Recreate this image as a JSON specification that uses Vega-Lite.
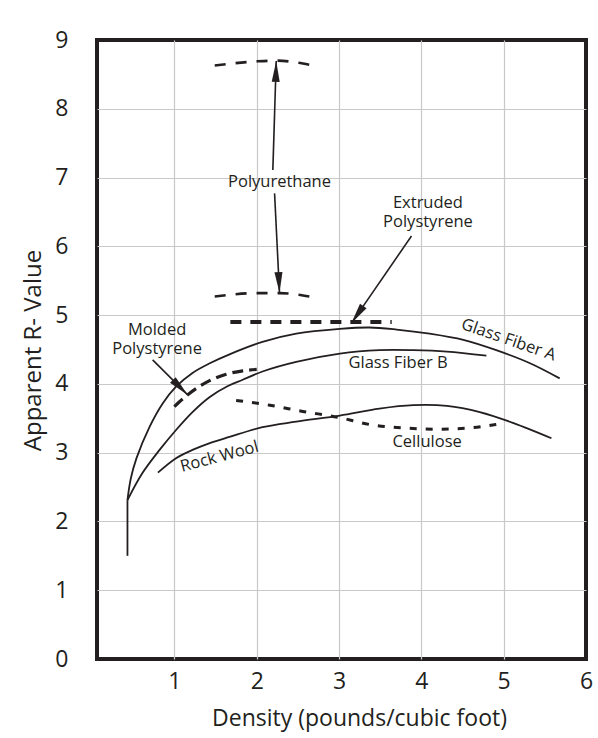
{
  "$schema": "https://vega.github.io/schema/vega-lite/v6.json",
  "width": 489,
  "height": 619,
  "autosize": {"type": "none"},
  "padding": {"left": 97, "top": 40, "right": 12, "bottom": 79},
  "background": "white",
  "config": {
    "view": {"stroke": "#231f20", "strokeWidth": 4},
    "font": "Open Sans",
    "axis": {"labelFont": "Open Sans", "titleFont": "Open Sans", "labelColor": "#231f20", "titleColor": "#231f20", "titleFontWeight": "normal"}
  },
  "datasets": {
    "curves": [
      {"series": "Glass Fiber A", "x": 0.43, "y": 2.31},
      {"series": "Glass Fiber A", "x": 0.47, "y": 2.62},
      {"series": "Glass Fiber A", "x": 0.54, "y": 2.92},
      {"series": "Glass Fiber A", "x": 0.70, "y": 3.38},
      {"series": "Glass Fiber A", "x": 0.86, "y": 3.72},
      {"series": "Glass Fiber A", "x": 1.02, "y": 3.96},
      {"series": "Glass Fiber A", "x": 1.22, "y": 4.16},
      {"series": "Glass Fiber A", "x": 1.43, "y": 4.30},
      {"series": "Glass Fiber A", "x": 1.67, "y": 4.43},
      {"series": "Glass Fiber A", "x": 2.07, "y": 4.61},
      {"series": "Glass Fiber A", "x": 2.48, "y": 4.73},
      {"series": "Glass Fiber A", "x": 3.01, "y": 4.80},
      {"series": "Glass Fiber A", "x": 3.37, "y": 4.82},
      {"series": "Glass Fiber A", "x": 3.70, "y": 4.79},
      {"series": "Glass Fiber A", "x": 4.10, "y": 4.73},
      {"series": "Glass Fiber A", "x": 4.51, "y": 4.64},
      {"series": "Glass Fiber A", "x": 4.91, "y": 4.49},
      {"series": "Glass Fiber A", "x": 5.32, "y": 4.30},
      {"series": "Glass Fiber A", "x": 5.68, "y": 4.08},
      {"series": "Glass Fiber B", "x": 0.43, "y": 2.31},
      {"series": "Glass Fiber B", "x": 0.61, "y": 2.70},
      {"series": "Glass Fiber B", "x": 0.82, "y": 3.04},
      {"series": "Glass Fiber B", "x": 1.02, "y": 3.33},
      {"series": "Glass Fiber B", "x": 1.22, "y": 3.59},
      {"series": "Glass Fiber B", "x": 1.43, "y": 3.81},
      {"series": "Glass Fiber B", "x": 1.65, "y": 3.97},
      {"series": "Glass Fiber B", "x": 1.83, "y": 4.06},
      {"series": "Glass Fiber B", "x": 2.07, "y": 4.18},
      {"series": "Glass Fiber B", "x": 2.48, "y": 4.32},
      {"series": "Glass Fiber B", "x": 3.01, "y": 4.44},
      {"series": "Glass Fiber B", "x": 3.49, "y": 4.49},
      {"series": "Glass Fiber B", "x": 3.90, "y": 4.49},
      {"series": "Glass Fiber B", "x": 4.31, "y": 4.47},
      {"series": "Glass Fiber B", "x": 4.79, "y": 4.41},
      {"series": "Rock Wool", "x": 0.80, "y": 2.71},
      {"series": "Rock Wool", "x": 1.02, "y": 2.92},
      {"series": "Rock Wool", "x": 1.22, "y": 3.04},
      {"series": "Rock Wool", "x": 1.43, "y": 3.14},
      {"series": "Rock Wool", "x": 1.67, "y": 3.23},
      {"series": "Rock Wool", "x": 2.07, "y": 3.37},
      {"series": "Rock Wool", "x": 2.48, "y": 3.45},
      {"series": "Rock Wool", "x": 3.01, "y": 3.54},
      {"series": "Rock Wool", "x": 3.49, "y": 3.64},
      {"series": "Rock Wool", "x": 3.90, "y": 3.69},
      {"series": "Rock Wool", "x": 4.31, "y": 3.68},
      {"series": "Rock Wool", "x": 4.71, "y": 3.59},
      {"series": "Rock Wool", "x": 5.12, "y": 3.43},
      {"series": "Rock Wool", "x": 5.58, "y": 3.21},
      {"series": "Cellulose", "x": 1.75, "y": 3.76},
      {"series": "Cellulose", "x": 2.16, "y": 3.69},
      {"series": "Cellulose", "x": 2.56, "y": 3.60},
      {"series": "Cellulose", "x": 3.01, "y": 3.51},
      {"series": "Cellulose", "x": 3.37, "y": 3.41},
      {"series": "Cellulose", "x": 3.78, "y": 3.36},
      {"series": "Cellulose", "x": 4.18, "y": 3.34},
      {"series": "Cellulose", "x": 4.59, "y": 3.36},
      {"series": "Cellulose", "x": 4.91, "y": 3.41},
      {"series": "Molded Polystyrene", "x": 1.00, "y": 3.67},
      {"series": "Molded Polystyrene", "x": 1.15, "y": 3.83},
      {"series": "Molded Polystyrene", "x": 1.30, "y": 3.96},
      {"series": "Molded Polystyrene", "x": 1.45, "y": 4.06},
      {"series": "Molded Polystyrene", "x": 1.63, "y": 4.14},
      {"series": "Molded Polystyrene", "x": 1.83, "y": 4.19},
      {"series": "Molded Polystyrene", "x": 2.00, "y": 4.21},
      {"series": "Extruded Polystyrene", "x": 1.68, "y": 4.90},
      {"series": "Extruded Polystyrene", "x": 3.64, "y": 4.90},
      {"series": "Polyurethane high", "x": 1.49, "y": 8.63},
      {"series": "Polyurethane high", "x": 2.01, "y": 8.69},
      {"series": "Polyurethane high", "x": 2.24, "y": 8.70},
      {"series": "Polyurethane high", "x": 2.64, "y": 8.64},
      {"series": "Polyurethane low", "x": 1.49, "y": 5.27},
      {"series": "Polyurethane low", "x": 2.01, "y": 5.32},
      {"series": "Polyurethane low", "x": 2.28, "y": 5.32},
      {"series": "Polyurethane low", "x": 2.64, "y": 5.27}
    ],
    "stem": [
      {"x": 0.43, "y": 1.5, "y2": 2.31}
    ],
    "arrows": [
      {"arrow": "Polyurethane up", "x": 2.196, "y": 7.11, "x2": 2.237, "y2": 8.696},
      {"arrow": "Polyurethane down", "x": 2.217, "y": 6.77, "x2": 2.277, "y2": 5.32},
      {"arrow": "Extruded", "x": 3.88, "y": 6.15, "x2": 3.15, "y2": 4.88},
      {"arrow": "Molded", "x": 0.736, "y": 4.35, "x2": 1.162, "y2": 3.84}
    ],
    "heads": [
      {"arrow": "Polyurethane up", "x": 2.237, "y": 8.696},
      {"arrow": "Polyurethane down", "x": 2.277, "y": 5.32},
      {"arrow": "Extruded", "x": 3.15, "y": 4.88},
      {"arrow": "Molded", "x": 1.162, "y": 3.84}
    ],
    "labels": [
      {"label": "Polyurethane", "x": 2.277, "y": 6.93},
      {"label": "Extruded\nPolystyrene", "x": 4.08, "y": 6.63},
      {"label": "Molded\nPolystyrene", "x": 0.79, "y": 4.79},
      {"label": "Glass Fiber B", "x": 3.717, "y": 4.31},
      {"label": "Cellulose", "x": 4.07, "y": 3.16}
    ],
    "labelA": [
      {"label": "Glass Fiber A", "x": 5.06, "y": 4.64}
    ],
    "labelRock": [
      {"label": "Rock Wool", "x": 1.547, "y": 2.94}
    ]
  },
  "encoding": {
    "x": {
      "field": "x", "type": "quantitative",
      "scale": {"domain": [0.06, 6], "nice": false, "zero": false},
      "axis": {
        "values": [1, 2, 3, 4, 5, 6],
        "grid": true,
        "gridColor": {"condition": {"test": "datum.value >= 6", "value": "transparent"}, "value": "#c8c8c8"},
        "gridWidth": 1.2,
        "domain": false, "ticks": false, "tickSize": 0,
        "labelFontSize": 23, "labelPadding": 11, "labelFlush": false, "labelOverlap": false,
        "title": "Density (pounds/cubic foot)",
        "titleFontSize": 23, "titleX": 262, "titleY": 59, "titleBaseline": "middle", "titleAlign": "center"
      }
    },
    "y": {
      "field": "y", "type": "quantitative",
      "scale": {"domain": [0, 9], "nice": false, "zero": false},
      "axis": {
        "values": [0, 1, 2, 3, 4, 5, 6, 7, 8, 9],
        "grid": true,
        "gridColor": {"condition": {"test": "datum.value <= 0 || datum.value >= 9", "value": "transparent"}, "value": "#c8c8c8"},
        "gridWidth": 1.2,
        "domain": false, "ticks": false, "tickSize": 0,
        "labelFontSize": 23, "labelPadding": 29, "labelFlush": false, "labelOverlap": false,
        "title": "Apparent R- Value",
        "titleFontSize": 24, "titleAngle": -90, "titleX": -64, "titleY": 310, "titleBaseline": "middle", "titleAlign": "center"
      }
    }
  },
  "layer": [
    {
      "data": {"name": "curves"},
      "transform": [{"filter": "datum.series === 'Glass Fiber A' || datum.series === 'Glass Fiber B' || datum.series === 'Rock Wool'"}],
      "mark": {"type": "line", "color": "#231f20", "strokeWidth": 1.8, "interpolate": "catmull-rom"},
      "encoding": {"detail": {"field": "series"}}
    },
    {
      "data": {"name": "stem"},
      "mark": {"type": "rule", "color": "#231f20", "strokeWidth": 1.8},
      "encoding": {"y2": {"field": "y2"}}
    },
    {
      "data": {"name": "curves"},
      "transform": [{"filter": "datum.series === 'Cellulose'"}],
      "mark": {"type": "line", "color": "#231f20", "strokeWidth": 3, "strokeDash": [7, 9], "interpolate": "monotone"},
      "encoding": {}
    },
    {
      "data": {"name": "curves"},
      "transform": [{"filter": "datum.series === 'Molded Polystyrene'"}],
      "mark": {"type": "line", "color": "#231f20", "strokeWidth": 3.2, "strokeDash": [11, 6], "interpolate": "monotone"},
      "encoding": {}
    },
    {
      "data": {"name": "curves"},
      "transform": [{"filter": "datum.series === 'Extruded Polystyrene'"}],
      "mark": {"type": "line", "color": "#231f20", "strokeWidth": 4, "strokeDash": [11, 9]},
      "encoding": {}
    },
    {
      "data": {"name": "curves"},
      "transform": [{"filter": "datum.series === 'Polyurethane high' || datum.series === 'Polyurethane low'"}],
      "mark": {"type": "line", "color": "#231f20", "strokeWidth": 2.6, "strokeDash": [11, 10], "interpolate": "monotone"},
      "encoding": {"detail": {"field": "series"}}
    },
    {
      "data": {"name": "arrows"},
      "mark": {"type": "rule", "color": "#231f20", "strokeWidth": 1.6},
      "encoding": {"x2": {"field": "x2"}, "y2": {"field": "y2"}}
    },
    {
      "data": {"name": "heads"},
      "transform": [{"filter": "datum.arrow === 'Polyurethane up'"}],
      "mark": {"type": "point", "shape": "M0,0L0.4,2.1L-0.4,2.1Z", "size": 400, "filled": true, "color": "#231f20", "opacity": 1, "strokeWidth": 0, "angle": 1.4},
      "encoding": {}
    },
    {
      "data": {"name": "heads"},
      "transform": [{"filter": "datum.arrow === 'Polyurethane down'"}],
      "mark": {"type": "point", "shape": "M0,0L0.4,2.1L-0.4,2.1Z", "size": 400, "filled": true, "color": "#231f20", "opacity": 1, "strokeWidth": 0, "angle": 177.1},
      "encoding": {}
    },
    {
      "data": {"name": "heads"},
      "transform": [{"filter": "datum.arrow === 'Extruded'"}],
      "mark": {"type": "point", "shape": "M0,0L0.4,2.1L-0.4,2.1Z", "size": 400, "filled": true, "color": "#231f20", "opacity": 1, "strokeWidth": 0, "angle": 214.5},
      "encoding": {}
    },
    {
      "data": {"name": "heads"},
      "transform": [{"filter": "datum.arrow === 'Molded'"}],
      "mark": {"type": "point", "shape": "M0,0L0.4,2.1L-0.4,2.1Z", "size": 400, "filled": true, "color": "#231f20", "opacity": 1, "strokeWidth": 0, "angle": 135},
      "encoding": {}
    },
    {
      "data": {"name": "labels"},
      "mark": {"type": "text", "font": "Open Sans", "fontSize": 16.5, "color": "#231f20", "align": "center", "baseline": "middle", "lineBreak": "\n", "lineHeight": 19},
      "encoding": {"text": {"field": "label"}}
    },
    {
      "data": {"name": "labelA"},
      "mark": {"type": "text", "font": "Open Sans", "fontSize": 16.5, "color": "#231f20", "align": "center", "baseline": "middle", "angle": 19},
      "encoding": {"text": {"field": "label"}}
    },
    {
      "data": {"name": "labelRock"},
      "mark": {"type": "text", "font": "Open Sans", "fontSize": 16.5, "color": "#231f20", "align": "center", "baseline": "middle", "angle": -15},
      "encoding": {"text": {"field": "label"}}
    }
  ]
}
